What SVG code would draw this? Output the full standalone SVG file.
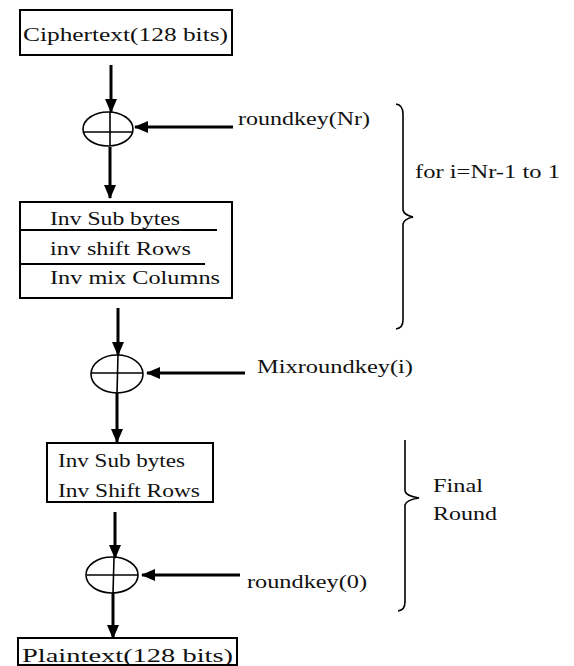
<svg xmlns="http://www.w3.org/2000/svg" width="574" height="666" viewBox="0 0 574 666">
<style>
.box{fill:#fff;stroke:#000;stroke-width:2}
.sep{stroke:#000;stroke-width:2}
.t{font-family:"Liberation Serif","Times New Roman",serif;font-size:19px;fill:#111}
.arr{stroke:#000;stroke-width:3;fill:none}
.xor{fill:none;stroke:#000;stroke-width:1.6}
.brace{fill:none;stroke:#000;stroke-width:1.6}
</style>
<defs>
<marker id="ah" markerUnits="userSpaceOnUse" markerWidth="14" markerHeight="14" viewBox="0 0 14 14" refX="13" refY="7" orient="auto">
<path d="M0,1 L14,7 L0,13 Z" fill="#000"/>
</marker>
</defs>
<rect width="574" height="666" fill="#fff"/>
<g id="connectors">
<line class="arr" x1="111" y1="65" x2="111" y2="112" marker-end="url(#ah)"/>
<line class="arr" x1="110" y1="147" x2="110" y2="198" marker-end="url(#ah)"/>
<line class="arr" x1="118" y1="308" x2="118" y2="355" marker-end="url(#ah)"/>
<line class="arr" x1="117" y1="393" x2="117" y2="442" marker-end="url(#ah)"/>
<line class="arr" x1="115" y1="512" x2="115" y2="558" marker-end="url(#ah)"/>
<line class="arr" x1="113" y1="593" x2="113" y2="638" marker-end="url(#ah)"/>
<line class="arr" x1="233" y1="127" x2="135" y2="127" marker-end="url(#ah)"/>
<line class="arr" x1="245" y1="373" x2="147" y2="373" marker-end="url(#ah)"/>
<line class="arr" x1="240" y1="575" x2="142" y2="575" marker-end="url(#ah)"/>
</g>
<g id="ciphertext">
<rect class="box" x="20" y="10" width="212" height="45"/>
<text class="t" x="23" y="41" textLength="205" lengthAdjust="spacingAndGlyphs">Ciphertext(128 bits)</text>
</g>
<g id="xor1">
<ellipse class="xor" cx="108" cy="129" rx="25" ry="17"/>
<line class="xor" x1="110" y1="112" x2="110" y2="146"/>
<line class="xor" x1="83" y1="132" x2="133" y2="132"/>
</g>
<g id="roundbox">
<rect class="box" x="20" y="202" width="212" height="96"/>
<line class="sep" x1="20" y1="230" x2="217" y2="230"/>
<line class="sep" x1="20" y1="264" x2="205" y2="264"/>
<text class="t" x="50" y="225" textLength="130" lengthAdjust="spacingAndGlyphs">Inv Sub bytes</text>
<text class="t" x="50" y="255" textLength="141" lengthAdjust="spacingAndGlyphs">inv shift Rows</text>
<text class="t" x="50" y="284" textLength="170" lengthAdjust="spacingAndGlyphs">Inv mix Columns</text>
</g>
<g id="xor2">
<ellipse class="xor" cx="117" cy="374" rx="26" ry="19"/>
<line class="xor" x1="118" y1="355" x2="117" y2="393"/>
<line class="xor" x1="91" y1="373" x2="143" y2="373"/>
</g>
<g id="finalbox">
<rect class="box" x="47" y="443" width="166" height="59"/>
<text class="t" x="58" y="467" textLength="127" lengthAdjust="spacingAndGlyphs">Inv Sub bytes</text>
<text class="t" x="58" y="497" textLength="142" lengthAdjust="spacingAndGlyphs">Inv Shift Rows</text>
</g>
<g id="xor3">
<ellipse class="xor" cx="112" cy="575" rx="26" ry="18"/>
<line class="xor" x1="114" y1="558" x2="113" y2="593"/>
<line class="xor" x1="87" y1="575" x2="138" y2="575"/>
</g>
<g id="plaintext">
<rect class="box" x="18" y="638" width="219" height="27"/>
<text class="t" x="22" y="662" textLength="211" lengthAdjust="spacingAndGlyphs">Plaintext(128 bits)</text>
</g>
<g id="labels">
<text class="t" x="238" y="125" textLength="132" lengthAdjust="spacingAndGlyphs">roundkey(Nr)</text>
<text class="t" x="257" y="373" textLength="156" lengthAdjust="spacingAndGlyphs">Mixroundkey(i)</text>
<text class="t" x="247" y="588" textLength="120" lengthAdjust="spacingAndGlyphs">roundkey(0)</text>
</g>
<g id="loop-brace">
<path class="brace" d="M396,104 Q403,105 403,114 L403,210 Q404,215 413,217 Q404,219 403,224 L403,320 Q403,328 396,329"/>
<text class="t" x="415" y="178" textLength="145" lengthAdjust="spacingAndGlyphs">for i=Nr-1 to 1</text>
</g>
<g id="final-brace">
<path class="brace" d="M405,440 L405,491 Q406,496 419,498 Q406,500 405,505 L405,602 Q405,610 398,611"/>
<text class="t" x="433" y="492" textLength="50" lengthAdjust="spacingAndGlyphs">Final</text>
<text class="t" x="433" y="520" textLength="64" lengthAdjust="spacingAndGlyphs">Round</text>
</g>
</svg>
